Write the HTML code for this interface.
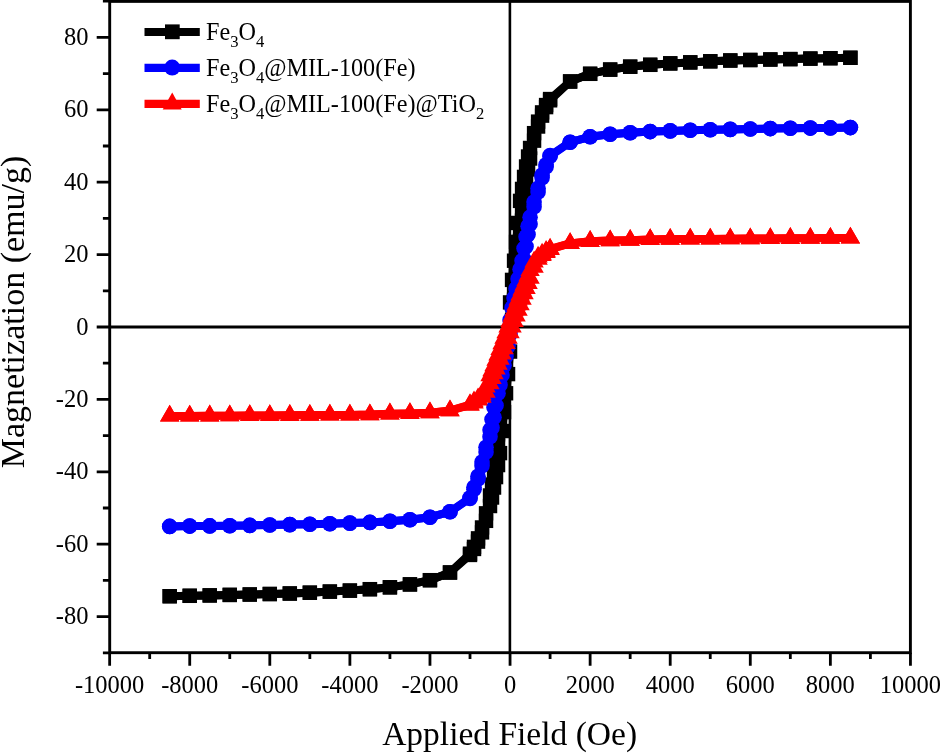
<!DOCTYPE html>
<html><head><meta charset="utf-8"><title>Magnetization vs Applied Field</title>
<style>html,body{margin:0;padding:0;background:#fff;width:940px;height:753px;overflow:hidden}svg{display:block;will-change:transform}text{font-family:"Liberation Serif",serif}</style>
</head><body>
<svg width="940" height="753" viewBox="0 0 940 753" font-family="Liberation Serif, serif" font-size="24.5" fill="#000">
<rect x="109.7" y="1.4" width="800.7" height="651.3" fill="none" stroke="#000" stroke-width="2.9"/><line x1="109.7" y1="327.0" x2="910.4" y2="327.0" stroke="#000" stroke-width="3"/><line x1="509.9" y1="1.4" x2="509.9" y2="652.7" stroke="#000" stroke-width="2.6"/><path d="M109.65 652.7V665.8 M149.69 652.7V658.9 M189.73 652.7V665.8 M229.77 652.7V658.9 M269.81 652.7V665.8 M309.85 652.7V658.9 M349.89 652.7V665.8 M389.93 652.7V658.9 M429.97 652.7V665.8 M470.01 652.7V658.9 M510.05 652.7V665.8 M550.09 652.7V658.9 M590.13 652.7V665.8 M630.17 652.7V658.9 M670.21 652.7V665.8 M710.25 652.7V658.9 M750.29 652.7V665.8 M790.33 652.7V658.9 M830.37 652.7V665.8 M870.41 652.7V658.9 M910.45 652.7V665.8 M109.7 652.8H102.9 M109.7 616.6H96.7 M109.7 580.4H102.9 M109.7 544.2H96.7 M109.7 508H102.9 M109.7 471.8H96.7 M109.7 435.6H102.9 M109.7 399.4H96.7 M109.7 363.2H102.9 M109.7 327H96.7 M109.7 290.8H102.9 M109.7 254.6H96.7 M109.7 218.4H102.9 M109.7 182.2H96.7 M109.7 146H102.9 M109.7 109.8H96.7 M109.7 73.6H102.9 M109.7 37.4H96.7 M109.7 1.2H102.9" stroke="#000" stroke-width="2.8" fill="none"/>
<g fill="#000"><polyline points="169.71,596.2 189.73,595.81 209.75,595.41 229.77,594.91 249.79,594.51 269.81,594.01 289.83,593.51 309.85,592.71 329.87,591.61 349.89,590.61 369.91,589.18 389.93,587.31 409.95,584.41 429.97,580.18 449.99,572.45 470.01,553.68 474.01,546.88 478.02,538.36 482.02,527.47 486.03,513.34 490.03,495.48 492.03,484.54 494.03,473.11 496.04,459.78 498.04,446.27 500.04,420.72 502.04,401.82 504.04,382.88 506.05,360.39 508.05,333.97 510.05,302.41 512.05,279.89 514.05,260.72 516.06,241.87 518.06,222.97 520.06,200.88 522.06,188.93 524.06,176.9 526.07,166.45 528.07,156.49 530.07,147.97 534.07,133.16 538.08,121.63 542.08,112.4 546.09,105.05 550.09,99.05 570.11,81.44 590.13,73.82 610.15,69.59 630.17,66.69 650.19,64.82 670.21,63.39 690.23,62.39 710.25,61.29 730.27,60.49 750.29,59.99 770.31,59.49 790.33,59.09 810.35,58.59 830.37,58.19 850.39,57.8" fill="none" stroke="#000" stroke-width="8" stroke-linejoin="round"/><polyline points="169.71,596.2 189.73,595.81 209.75,595.41 229.77,594.91 249.79,594.51 269.81,594.01 289.83,593.51 309.85,592.71 329.87,591.61 349.89,590.61 369.91,589.18 389.93,587.31 409.95,584.41 429.97,580.18 449.99,572.56 470.01,554.95 474.01,548.95 478.02,541.6 482.02,532.37 486.03,520.84 490.03,506.03 492.03,497.51 494.03,487.55 496.04,477.1 498.04,465.07 500.04,453.12 502.04,431.03 504.04,412.13 506.05,393.28 508.05,374.11 510.05,351.59 512.05,320.03 514.05,293.61 516.06,271.12 518.06,252.18 520.06,233.28 522.06,207.73 524.06,194.22 526.07,180.89 528.07,169.46 530.07,158.52 534.07,140.66 538.08,126.53 542.08,115.64 546.09,107.12 550.09,100.32 570.11,81.55 590.13,73.82 610.15,69.59 630.17,66.69 650.19,64.82 670.21,63.39 690.23,62.39 710.25,61.29 730.27,60.49 750.29,59.99 770.31,59.49 790.33,59.09 810.35,58.59 830.37,58.19 850.39,57.8" fill="none" stroke="#000" stroke-width="8" stroke-linejoin="round"/><rect x="162.51" y="589" width="14.4" height="14.4"/><rect x="182.53" y="588.61" width="14.4" height="14.4"/><rect x="202.55" y="588.21" width="14.4" height="14.4"/><rect x="222.57" y="587.71" width="14.4" height="14.4"/><rect x="242.59" y="587.31" width="14.4" height="14.4"/><rect x="262.61" y="586.81" width="14.4" height="14.4"/><rect x="282.63" y="586.31" width="14.4" height="14.4"/><rect x="302.65" y="585.51" width="14.4" height="14.4"/><rect x="322.67" y="584.41" width="14.4" height="14.4"/><rect x="342.69" y="583.41" width="14.4" height="14.4"/><rect x="362.71" y="581.98" width="14.4" height="14.4"/><rect x="382.73" y="580.11" width="14.4" height="14.4"/><rect x="402.75" y="577.21" width="14.4" height="14.4"/><rect x="422.77" y="572.98" width="14.4" height="14.4"/><rect x="442.79" y="565.25" width="14.4" height="14.4"/><rect x="462.81" y="546.48" width="14.4" height="14.4"/><rect x="466.81" y="539.68" width="14.4" height="14.4"/><rect x="470.82" y="531.16" width="14.4" height="14.4"/><rect x="474.82" y="520.27" width="14.4" height="14.4"/><rect x="478.83" y="506.14" width="14.4" height="14.4"/><rect x="482.83" y="488.28" width="14.4" height="14.4"/><rect x="484.83" y="477.34" width="14.4" height="14.4"/><rect x="486.83" y="465.91" width="14.4" height="14.4"/><rect x="488.84" y="452.58" width="14.4" height="14.4"/><rect x="490.84" y="439.07" width="14.4" height="14.4"/><rect x="492.84" y="413.52" width="14.4" height="14.4"/><rect x="494.84" y="394.62" width="14.4" height="14.4"/><rect x="496.84" y="375.68" width="14.4" height="14.4"/><rect x="498.85" y="353.19" width="14.4" height="14.4"/><rect x="500.85" y="326.77" width="14.4" height="14.4"/><rect x="502.85" y="295.21" width="14.4" height="14.4"/><rect x="504.85" y="272.69" width="14.4" height="14.4"/><rect x="506.85" y="253.52" width="14.4" height="14.4"/><rect x="508.86" y="234.67" width="14.4" height="14.4"/><rect x="510.86" y="215.77" width="14.4" height="14.4"/><rect x="512.86" y="193.68" width="14.4" height="14.4"/><rect x="514.86" y="181.73" width="14.4" height="14.4"/><rect x="516.86" y="169.7" width="14.4" height="14.4"/><rect x="518.87" y="159.25" width="14.4" height="14.4"/><rect x="520.87" y="149.29" width="14.4" height="14.4"/><rect x="522.87" y="140.77" width="14.4" height="14.4"/><rect x="526.87" y="125.96" width="14.4" height="14.4"/><rect x="530.88" y="114.43" width="14.4" height="14.4"/><rect x="534.88" y="105.2" width="14.4" height="14.4"/><rect x="538.89" y="97.85" width="14.4" height="14.4"/><rect x="542.89" y="91.85" width="14.4" height="14.4"/><rect x="562.91" y="74.24" width="14.4" height="14.4"/><rect x="582.93" y="66.62" width="14.4" height="14.4"/><rect x="602.95" y="62.39" width="14.4" height="14.4"/><rect x="622.97" y="59.49" width="14.4" height="14.4"/><rect x="642.99" y="57.62" width="14.4" height="14.4"/><rect x="663.01" y="56.19" width="14.4" height="14.4"/><rect x="683.03" y="55.19" width="14.4" height="14.4"/><rect x="703.05" y="54.09" width="14.4" height="14.4"/><rect x="723.07" y="53.29" width="14.4" height="14.4"/><rect x="743.09" y="52.79" width="14.4" height="14.4"/><rect x="763.11" y="52.29" width="14.4" height="14.4"/><rect x="783.13" y="51.89" width="14.4" height="14.4"/><rect x="803.15" y="51.39" width="14.4" height="14.4"/><rect x="823.17" y="50.99" width="14.4" height="14.4"/><rect x="843.19" y="50.6" width="14.4" height="14.4"/><rect x="162.51" y="589" width="14.4" height="14.4"/><rect x="182.53" y="588.61" width="14.4" height="14.4"/><rect x="202.55" y="588.21" width="14.4" height="14.4"/><rect x="222.57" y="587.71" width="14.4" height="14.4"/><rect x="242.59" y="587.31" width="14.4" height="14.4"/><rect x="262.61" y="586.81" width="14.4" height="14.4"/><rect x="282.63" y="586.31" width="14.4" height="14.4"/><rect x="302.65" y="585.51" width="14.4" height="14.4"/><rect x="322.67" y="584.41" width="14.4" height="14.4"/><rect x="342.69" y="583.41" width="14.4" height="14.4"/><rect x="362.71" y="581.98" width="14.4" height="14.4"/><rect x="382.73" y="580.11" width="14.4" height="14.4"/><rect x="402.75" y="577.21" width="14.4" height="14.4"/><rect x="422.77" y="572.98" width="14.4" height="14.4"/><rect x="442.79" y="565.36" width="14.4" height="14.4"/><rect x="462.81" y="547.75" width="14.4" height="14.4"/><rect x="466.81" y="541.75" width="14.4" height="14.4"/><rect x="470.82" y="534.4" width="14.4" height="14.4"/><rect x="474.82" y="525.17" width="14.4" height="14.4"/><rect x="478.83" y="513.64" width="14.4" height="14.4"/><rect x="482.83" y="498.83" width="14.4" height="14.4"/><rect x="484.83" y="490.31" width="14.4" height="14.4"/><rect x="486.83" y="480.35" width="14.4" height="14.4"/><rect x="488.84" y="469.9" width="14.4" height="14.4"/><rect x="490.84" y="457.87" width="14.4" height="14.4"/><rect x="492.84" y="445.92" width="14.4" height="14.4"/><rect x="494.84" y="423.83" width="14.4" height="14.4"/><rect x="496.84" y="404.93" width="14.4" height="14.4"/><rect x="498.85" y="386.08" width="14.4" height="14.4"/><rect x="500.85" y="366.91" width="14.4" height="14.4"/><rect x="502.85" y="344.39" width="14.4" height="14.4"/><rect x="504.85" y="312.83" width="14.4" height="14.4"/><rect x="506.85" y="286.41" width="14.4" height="14.4"/><rect x="508.86" y="263.92" width="14.4" height="14.4"/><rect x="510.86" y="244.98" width="14.4" height="14.4"/><rect x="512.86" y="226.08" width="14.4" height="14.4"/><rect x="514.86" y="200.53" width="14.4" height="14.4"/><rect x="516.86" y="187.02" width="14.4" height="14.4"/><rect x="518.87" y="173.69" width="14.4" height="14.4"/><rect x="520.87" y="162.26" width="14.4" height="14.4"/><rect x="522.87" y="151.32" width="14.4" height="14.4"/><rect x="526.87" y="133.46" width="14.4" height="14.4"/><rect x="530.88" y="119.33" width="14.4" height="14.4"/><rect x="534.88" y="108.44" width="14.4" height="14.4"/><rect x="538.89" y="99.92" width="14.4" height="14.4"/><rect x="542.89" y="93.12" width="14.4" height="14.4"/><rect x="562.91" y="74.35" width="14.4" height="14.4"/><rect x="582.93" y="66.62" width="14.4" height="14.4"/><rect x="602.95" y="62.39" width="14.4" height="14.4"/><rect x="622.97" y="59.49" width="14.4" height="14.4"/><rect x="642.99" y="57.62" width="14.4" height="14.4"/><rect x="663.01" y="56.19" width="14.4" height="14.4"/><rect x="683.03" y="55.19" width="14.4" height="14.4"/><rect x="703.05" y="54.09" width="14.4" height="14.4"/><rect x="723.07" y="53.29" width="14.4" height="14.4"/><rect x="743.09" y="52.79" width="14.4" height="14.4"/><rect x="763.11" y="52.29" width="14.4" height="14.4"/><rect x="783.13" y="51.89" width="14.4" height="14.4"/><rect x="803.15" y="51.39" width="14.4" height="14.4"/><rect x="823.17" y="50.99" width="14.4" height="14.4"/><rect x="843.19" y="50.6" width="14.4" height="14.4"/></g><g fill="#0000ff"><polyline points="169.71,526.4 189.73,526.1 209.75,525.9 229.77,525.7 249.79,525.41 269.81,525.01 289.83,524.61 309.85,524.2 329.87,523.81 349.89,523.11 369.91,522.41 389.93,521.22 409.95,519.75 429.97,517.21 449.99,511.78 470.01,497.75 474.01,487.25 478.02,476.21 482.02,461.94 486.03,447.23 490.03,430.09 492.03,419.49 494.03,407.55 496.04,394.49 498.04,385.64 500.04,375.7 502.04,365.73 504.04,356.13 506.05,346.2 508.05,333.91 510.05,320.11 512.05,307.88 514.05,298.07 516.06,288.63 518.06,278.92 520.06,269.15 522.06,260.74 524.06,248.46 526.07,236.71 528.07,226.33 530.07,217.17 534.07,202.04 538.08,188.3 542.08,175.01 546.09,164.81 550.09,155.52 570.11,142.18 590.13,136.79 610.15,134.25 630.17,132.78 650.19,131.59 670.21,130.89 690.23,130.19 710.25,129.8 730.27,129.39 750.29,128.99 770.31,128.59 790.33,128.3 810.35,128.1 830.37,127.9 850.39,127.6" fill="none" stroke="#0000ff" stroke-width="8" stroke-linejoin="round"/><polyline points="169.71,526.4 189.73,526.1 209.75,525.9 229.77,525.7 249.79,525.41 269.81,525.01 289.83,524.61 309.85,524.2 329.87,523.81 349.89,523.11 369.91,522.41 389.93,521.22 409.95,519.75 429.97,517.21 449.99,511.82 470.01,498.48 474.01,489.19 478.02,478.99 482.02,465.7 486.03,451.96 490.03,436.83 492.03,427.67 494.03,417.29 496.04,405.54 498.04,393.26 500.04,384.85 502.04,375.08 504.04,365.37 506.05,355.93 508.05,346.12 510.05,333.89 512.05,320.09 514.05,307.8 516.06,297.87 518.06,288.27 520.06,278.3 522.06,268.36 524.06,259.51 526.07,246.45 528.07,234.51 530.07,223.91 534.07,206.77 538.08,192.06 542.08,177.79 546.09,166.75 550.09,156.25 570.11,142.22 590.13,136.79 610.15,134.25 630.17,132.78 650.19,131.59 670.21,130.89 690.23,130.19 710.25,129.8 730.27,129.39 750.29,128.99 770.31,128.59 790.33,128.3 810.35,128.1 830.37,127.9 850.39,127.6" fill="none" stroke="#0000ff" stroke-width="8" stroke-linejoin="round"/><circle cx="169.71" cy="526.4" r="7.8"/><circle cx="189.73" cy="526.1" r="7.8"/><circle cx="209.75" cy="525.9" r="7.8"/><circle cx="229.77" cy="525.7" r="7.8"/><circle cx="249.79" cy="525.41" r="7.8"/><circle cx="269.81" cy="525.01" r="7.8"/><circle cx="289.83" cy="524.61" r="7.8"/><circle cx="309.85" cy="524.2" r="7.8"/><circle cx="329.87" cy="523.81" r="7.8"/><circle cx="349.89" cy="523.11" r="7.8"/><circle cx="369.91" cy="522.41" r="7.8"/><circle cx="389.93" cy="521.22" r="7.8"/><circle cx="409.95" cy="519.75" r="7.8"/><circle cx="429.97" cy="517.21" r="7.8"/><circle cx="449.99" cy="511.78" r="7.8"/><circle cx="470.01" cy="497.75" r="7.8"/><circle cx="474.01" cy="487.25" r="7.8"/><circle cx="478.02" cy="476.21" r="7.8"/><circle cx="482.02" cy="461.94" r="7.8"/><circle cx="486.03" cy="447.23" r="7.8"/><circle cx="490.03" cy="430.09" r="7.8"/><circle cx="492.03" cy="419.49" r="7.8"/><circle cx="494.03" cy="407.55" r="7.8"/><circle cx="496.04" cy="394.49" r="7.8"/><circle cx="498.04" cy="385.64" r="7.8"/><circle cx="500.04" cy="375.7" r="7.8"/><circle cx="502.04" cy="365.73" r="7.8"/><circle cx="504.04" cy="356.13" r="7.8"/><circle cx="506.05" cy="346.2" r="7.8"/><circle cx="508.05" cy="333.91" r="7.8"/><circle cx="510.05" cy="320.11" r="7.8"/><circle cx="512.05" cy="307.88" r="7.8"/><circle cx="514.05" cy="298.07" r="7.8"/><circle cx="516.06" cy="288.63" r="7.8"/><circle cx="518.06" cy="278.92" r="7.8"/><circle cx="520.06" cy="269.15" r="7.8"/><circle cx="522.06" cy="260.74" r="7.8"/><circle cx="524.06" cy="248.46" r="7.8"/><circle cx="526.07" cy="236.71" r="7.8"/><circle cx="528.07" cy="226.33" r="7.8"/><circle cx="530.07" cy="217.17" r="7.8"/><circle cx="534.07" cy="202.04" r="7.8"/><circle cx="538.08" cy="188.3" r="7.8"/><circle cx="542.08" cy="175.01" r="7.8"/><circle cx="546.09" cy="164.81" r="7.8"/><circle cx="550.09" cy="155.52" r="7.8"/><circle cx="570.11" cy="142.18" r="7.8"/><circle cx="590.13" cy="136.79" r="7.8"/><circle cx="610.15" cy="134.25" r="7.8"/><circle cx="630.17" cy="132.78" r="7.8"/><circle cx="650.19" cy="131.59" r="7.8"/><circle cx="670.21" cy="130.89" r="7.8"/><circle cx="690.23" cy="130.19" r="7.8"/><circle cx="710.25" cy="129.8" r="7.8"/><circle cx="730.27" cy="129.39" r="7.8"/><circle cx="750.29" cy="128.99" r="7.8"/><circle cx="770.31" cy="128.59" r="7.8"/><circle cx="790.33" cy="128.3" r="7.8"/><circle cx="810.35" cy="128.1" r="7.8"/><circle cx="830.37" cy="127.9" r="7.8"/><circle cx="850.39" cy="127.6" r="7.8"/><circle cx="169.71" cy="526.4" r="7.8"/><circle cx="189.73" cy="526.1" r="7.8"/><circle cx="209.75" cy="525.9" r="7.8"/><circle cx="229.77" cy="525.7" r="7.8"/><circle cx="249.79" cy="525.41" r="7.8"/><circle cx="269.81" cy="525.01" r="7.8"/><circle cx="289.83" cy="524.61" r="7.8"/><circle cx="309.85" cy="524.2" r="7.8"/><circle cx="329.87" cy="523.81" r="7.8"/><circle cx="349.89" cy="523.11" r="7.8"/><circle cx="369.91" cy="522.41" r="7.8"/><circle cx="389.93" cy="521.22" r="7.8"/><circle cx="409.95" cy="519.75" r="7.8"/><circle cx="429.97" cy="517.21" r="7.8"/><circle cx="449.99" cy="511.82" r="7.8"/><circle cx="470.01" cy="498.48" r="7.8"/><circle cx="474.01" cy="489.19" r="7.8"/><circle cx="478.02" cy="478.99" r="7.8"/><circle cx="482.02" cy="465.7" r="7.8"/><circle cx="486.03" cy="451.96" r="7.8"/><circle cx="490.03" cy="436.83" r="7.8"/><circle cx="492.03" cy="427.67" r="7.8"/><circle cx="494.03" cy="417.29" r="7.8"/><circle cx="496.04" cy="405.54" r="7.8"/><circle cx="498.04" cy="393.26" r="7.8"/><circle cx="500.04" cy="384.85" r="7.8"/><circle cx="502.04" cy="375.08" r="7.8"/><circle cx="504.04" cy="365.37" r="7.8"/><circle cx="506.05" cy="355.93" r="7.8"/><circle cx="508.05" cy="346.12" r="7.8"/><circle cx="510.05" cy="333.89" r="7.8"/><circle cx="512.05" cy="320.09" r="7.8"/><circle cx="514.05" cy="307.8" r="7.8"/><circle cx="516.06" cy="297.87" r="7.8"/><circle cx="518.06" cy="288.27" r="7.8"/><circle cx="520.06" cy="278.3" r="7.8"/><circle cx="522.06" cy="268.36" r="7.8"/><circle cx="524.06" cy="259.51" r="7.8"/><circle cx="526.07" cy="246.45" r="7.8"/><circle cx="528.07" cy="234.51" r="7.8"/><circle cx="530.07" cy="223.91" r="7.8"/><circle cx="534.07" cy="206.77" r="7.8"/><circle cx="538.08" cy="192.06" r="7.8"/><circle cx="542.08" cy="177.79" r="7.8"/><circle cx="546.09" cy="166.75" r="7.8"/><circle cx="550.09" cy="156.25" r="7.8"/><circle cx="570.11" cy="142.22" r="7.8"/><circle cx="590.13" cy="136.79" r="7.8"/><circle cx="610.15" cy="134.25" r="7.8"/><circle cx="630.17" cy="132.78" r="7.8"/><circle cx="650.19" cy="131.59" r="7.8"/><circle cx="670.21" cy="130.89" r="7.8"/><circle cx="690.23" cy="130.19" r="7.8"/><circle cx="710.25" cy="129.8" r="7.8"/><circle cx="730.27" cy="129.39" r="7.8"/><circle cx="750.29" cy="128.99" r="7.8"/><circle cx="770.31" cy="128.59" r="7.8"/><circle cx="790.33" cy="128.3" r="7.8"/><circle cx="810.35" cy="128.1" r="7.8"/><circle cx="830.37" cy="127.9" r="7.8"/><circle cx="850.39" cy="127.6" r="7.8"/></g><g fill="#ff0000"><polyline points="169.71,416 189.73,415.9 209.75,415.8 229.77,415.7 249.79,415.5 269.81,415.4 289.83,415.3 309.85,415.1 329.87,415 349.89,414.9 369.91,414.6 389.93,413.8 409.95,413.41 429.97,412.71 449.99,410.58 470.01,404.56 474.01,401.65 478.02,398.67 482.02,394.73 486.03,386.87 490.03,375.75 492.03,370.69 494.03,365.55 496.04,360.23 498.04,354.82 500.04,349.32 502.04,343.77 504.04,338.2 506.05,332.6 508.05,327.02 510.05,321.47 512.05,315.97 514.05,310.56 516.06,305.23 518.06,299.99 520.06,294.88 522.06,289.89 524.06,285.06 526.07,280.43 528.07,275.63 530.07,270.34 534.07,261.9 538.08,256.92 542.08,254.07 546.09,251.19 550.09,248.93 570.11,243.38 590.13,241.29 610.15,240.59 630.17,240.2 650.19,239.4 670.21,239.1 690.23,239 710.25,238.9 730.27,238.7 750.29,238.6 770.31,238.5 790.33,238.3 810.35,238.2 830.37,238.1 850.39,238" fill="none" stroke="#ff0000" stroke-width="8" stroke-linejoin="round"/><polyline points="169.71,416 189.73,415.9 209.75,415.8 229.77,415.7 249.79,415.5 269.81,415.4 289.83,415.3 309.85,415.1 329.87,415 349.89,414.9 369.91,414.6 389.93,413.8 409.95,413.41 429.97,412.71 449.99,410.62 470.01,405.07 474.01,402.81 478.02,399.93 482.02,397.08 486.03,392.1 490.03,383.66 492.03,378.37 494.03,373.57 496.04,368.94 498.04,364.11 500.04,359.12 502.04,354.01 504.04,348.77 506.05,343.44 508.05,338.03 510.05,332.53 512.05,326.98 514.05,321.4 516.06,315.8 518.06,310.23 520.06,304.68 522.06,299.18 524.06,293.77 526.07,288.45 528.07,283.31 530.07,278.25 534.07,267.13 538.08,259.27 542.08,255.33 546.09,252.35 550.09,249.44 570.11,243.42 590.13,241.29 610.15,240.59 630.17,240.2 650.19,239.4 670.21,239.1 690.23,239 710.25,238.9 730.27,238.7 750.29,238.6 770.31,238.5 790.33,238.3 810.35,238.2 830.37,238.1 850.39,238" fill="none" stroke="#ff0000" stroke-width="8" stroke-linejoin="round"/><path d="M169.71 404.8L179.41 421.6L160.01 421.6ZM189.73 404.7L199.43 421.5L180.03 421.5ZM209.75 404.6L219.45 421.4L200.05 421.4ZM229.77 404.5L239.47 421.3L220.07 421.3ZM249.79 404.3L259.49 421.1L240.09 421.1ZM269.81 404.2L279.51 421L260.11 421ZM289.83 404.1L299.53 420.9L280.13 420.9ZM309.85 403.9L319.55 420.7L300.15 420.7ZM329.87 403.8L339.57 420.6L320.17 420.6ZM349.89 403.7L359.59 420.5L340.19 420.5ZM369.91 403.4L379.61 420.2L360.21 420.2ZM389.93 402.6L399.63 419.4L380.23 419.4ZM409.95 402.21L419.65 419.01L400.25 419.01ZM429.97 401.51L439.67 418.31L420.27 418.31ZM449.99 399.38L459.69 416.18L440.29 416.18ZM470.01 393.36L479.71 410.16L460.31 410.16ZM474.01 390.45L483.71 407.25L464.31 407.25ZM478.02 387.47L487.72 404.27L468.32 404.27ZM482.02 383.53L491.72 400.33L472.32 400.33ZM486.03 375.67L495.73 392.47L476.33 392.47ZM490.03 364.55L499.73 381.35L480.33 381.35ZM492.03 359.49L501.73 376.29L482.33 376.29ZM494.03 354.35L503.73 371.15L484.33 371.15ZM496.04 349.03L505.74 365.83L486.34 365.83ZM498.04 343.62L507.74 360.42L488.34 360.42ZM500.04 338.12L509.74 354.92L490.34 354.92ZM502.04 332.57L511.74 349.37L492.34 349.37ZM504.04 327L513.74 343.8L494.34 343.8ZM506.05 321.4L515.75 338.2L496.35 338.2ZM508.05 315.82L517.75 332.62L498.35 332.62ZM510.05 310.27L519.75 327.07L500.35 327.07ZM512.05 304.77L521.75 321.57L502.35 321.57ZM514.05 299.36L523.75 316.16L504.35 316.16ZM516.06 294.03L525.76 310.83L506.36 310.83ZM518.06 288.79L527.76 305.59L508.36 305.59ZM520.06 283.68L529.76 300.48L510.36 300.48ZM522.06 278.69L531.76 295.49L512.36 295.49ZM524.06 273.86L533.76 290.66L514.36 290.66ZM526.07 269.23L535.77 286.03L516.37 286.03ZM528.07 264.43L537.77 281.23L518.37 281.23ZM530.07 259.14L539.77 275.94L520.37 275.94ZM534.07 250.7L543.77 267.5L524.37 267.5ZM538.08 245.72L547.78 262.52L528.38 262.52ZM542.08 242.87L551.78 259.67L532.38 259.67ZM546.09 239.99L555.79 256.79L536.39 256.79ZM550.09 237.73L559.79 254.53L540.39 254.53ZM570.11 232.18L579.81 248.98L560.41 248.98ZM590.13 230.09L599.83 246.89L580.43 246.89ZM610.15 229.39L619.85 246.19L600.45 246.19ZM630.17 229L639.87 245.8L620.47 245.8ZM650.19 228.2L659.89 245L640.49 245ZM670.21 227.9L679.91 244.7L660.51 244.7ZM690.23 227.8L699.93 244.6L680.53 244.6ZM710.25 227.7L719.95 244.5L700.55 244.5ZM730.27 227.5L739.97 244.3L720.57 244.3ZM750.29 227.4L759.99 244.2L740.59 244.2ZM770.31 227.3L780.01 244.1L760.61 244.1ZM790.33 227.1L800.03 243.9L780.63 243.9ZM810.35 227L820.05 243.8L800.65 243.8ZM830.37 226.9L840.07 243.7L820.67 243.7ZM850.39 226.8L860.09 243.6L840.69 243.6Z"/><path d="M169.71 404.8L179.41 421.6L160.01 421.6ZM189.73 404.7L199.43 421.5L180.03 421.5ZM209.75 404.6L219.45 421.4L200.05 421.4ZM229.77 404.5L239.47 421.3L220.07 421.3ZM249.79 404.3L259.49 421.1L240.09 421.1ZM269.81 404.2L279.51 421L260.11 421ZM289.83 404.1L299.53 420.9L280.13 420.9ZM309.85 403.9L319.55 420.7L300.15 420.7ZM329.87 403.8L339.57 420.6L320.17 420.6ZM349.89 403.7L359.59 420.5L340.19 420.5ZM369.91 403.4L379.61 420.2L360.21 420.2ZM389.93 402.6L399.63 419.4L380.23 419.4ZM409.95 402.21L419.65 419.01L400.25 419.01ZM429.97 401.51L439.67 418.31L420.27 418.31ZM449.99 399.42L459.69 416.22L440.29 416.22ZM470.01 393.87L479.71 410.67L460.31 410.67ZM474.01 391.61L483.71 408.41L464.31 408.41ZM478.02 388.73L487.72 405.53L468.32 405.53ZM482.02 385.88L491.72 402.68L472.32 402.68ZM486.03 380.9L495.73 397.7L476.33 397.7ZM490.03 372.46L499.73 389.26L480.33 389.26ZM492.03 367.17L501.73 383.97L482.33 383.97ZM494.03 362.37L503.73 379.17L484.33 379.17ZM496.04 357.74L505.74 374.54L486.34 374.54ZM498.04 352.91L507.74 369.71L488.34 369.71ZM500.04 347.92L509.74 364.72L490.34 364.72ZM502.04 342.81L511.74 359.61L492.34 359.61ZM504.04 337.57L513.74 354.37L494.34 354.37ZM506.05 332.24L515.75 349.04L496.35 349.04ZM508.05 326.83L517.75 343.63L498.35 343.63ZM510.05 321.33L519.75 338.13L500.35 338.13ZM512.05 315.78L521.75 332.58L502.35 332.58ZM514.05 310.2L523.75 327L504.35 327ZM516.06 304.6L525.76 321.4L506.36 321.4ZM518.06 299.03L527.76 315.83L508.36 315.83ZM520.06 293.48L529.76 310.28L510.36 310.28ZM522.06 287.98L531.76 304.78L512.36 304.78ZM524.06 282.57L533.76 299.37L514.36 299.37ZM526.07 277.25L535.77 294.05L516.37 294.05ZM528.07 272.11L537.77 288.91L518.37 288.91ZM530.07 267.05L539.77 283.85L520.37 283.85ZM534.07 255.93L543.77 272.73L524.37 272.73ZM538.08 248.07L547.78 264.87L528.38 264.87ZM542.08 244.13L551.78 260.93L532.38 260.93ZM546.09 241.15L555.79 257.95L536.39 257.95ZM550.09 238.24L559.79 255.04L540.39 255.04ZM570.11 232.22L579.81 249.02L560.41 249.02ZM590.13 230.09L599.83 246.89L580.43 246.89ZM610.15 229.39L619.85 246.19L600.45 246.19ZM630.17 229L639.87 245.8L620.47 245.8ZM650.19 228.2L659.89 245L640.49 245ZM670.21 227.9L679.91 244.7L660.51 244.7ZM690.23 227.8L699.93 244.6L680.53 244.6ZM710.25 227.7L719.95 244.5L700.55 244.5ZM730.27 227.5L739.97 244.3L720.57 244.3ZM750.29 227.4L759.99 244.2L740.59 244.2ZM770.31 227.3L780.01 244.1L760.61 244.1ZM790.33 227.1L800.03 243.9L780.63 243.9ZM810.35 227L820.05 243.8L800.65 243.8ZM830.37 226.9L840.07 243.7L820.67 243.7ZM850.39 226.8L860.09 243.6L840.69 243.6Z"/></g>
<text x="109.65" y="693" text-anchor="middle">-10000</text><text x="189.73" y="693" text-anchor="middle">-8000</text><text x="269.81" y="693" text-anchor="middle">-6000</text><text x="349.89" y="693" text-anchor="middle">-4000</text><text x="429.97" y="693" text-anchor="middle">-2000</text><text x="510.05" y="693" text-anchor="middle">0</text><text x="590.13" y="693" text-anchor="middle">2000</text><text x="670.21" y="693" text-anchor="middle">4000</text><text x="750.29" y="693" text-anchor="middle">6000</text><text x="830.37" y="693" text-anchor="middle">8000</text><text x="910.45" y="693" text-anchor="middle">10000</text><text x="88.5" y="624.2" text-anchor="end">-80</text><text x="88.5" y="551.8" text-anchor="end">-60</text><text x="88.5" y="479.4" text-anchor="end">-40</text><text x="88.5" y="407" text-anchor="end">-20</text><text x="88.5" y="334.6" text-anchor="end">0</text><text x="88.5" y="262.2" text-anchor="end">20</text><text x="88.5" y="189.8" text-anchor="end">40</text><text x="88.5" y="117.4" text-anchor="end">60</text><text x="88.5" y="45" text-anchor="end">80</text>

<g>
<line x1="144.5" y1="32" x2="199.8" y2="32" stroke="#000" stroke-width="8.2"/>
<rect x="165" y="24.4" width="14.7" height="14.8" fill="#000"/>
<line x1="144.5" y1="67.8" x2="199.8" y2="67.8" stroke="#0000ff" stroke-width="8.2"/>
<circle cx="172.2" cy="67.6" r="8" fill="#0000ff"/>
<line x1="144.5" y1="103.9" x2="199.8" y2="103.9" stroke="#ff0000" stroke-width="8.2"/>
<path d="M172.2 92.5L181.7 109.4L162.7 109.4Z" fill="#ff0000"/>
</g>
<g font-size="24.2">
<text x="206" y="40.2">Fe<tspan font-size="16.6" dy="7">3</tspan><tspan dy="-7">O</tspan><tspan font-size="16.6" dy="7">4</tspan></text>
<text x="206" y="76.1">Fe<tspan font-size="16.6" dy="7">3</tspan><tspan dy="-7">O</tspan><tspan font-size="16.6" dy="7">4</tspan><tspan dy="-7">@MIL-100(Fe)</tspan></text>
<text x="206" y="112.1">Fe<tspan font-size="16.6" dy="7">3</tspan><tspan dy="-7">O</tspan><tspan font-size="16.6" dy="7">4</tspan><tspan dy="-7">@MIL-100(Fe)@TiO</tspan><tspan font-size="16.6" dy="7">2</tspan></text>
</g>

<text x="509.6" y="745.1" text-anchor="middle" font-size="33.5">Applied Field (Oe)</text>
<text transform="translate(23.6,312) rotate(-90)" text-anchor="middle" font-size="34">Magnetization (emu/g)</text>
</svg>
</body></html>
